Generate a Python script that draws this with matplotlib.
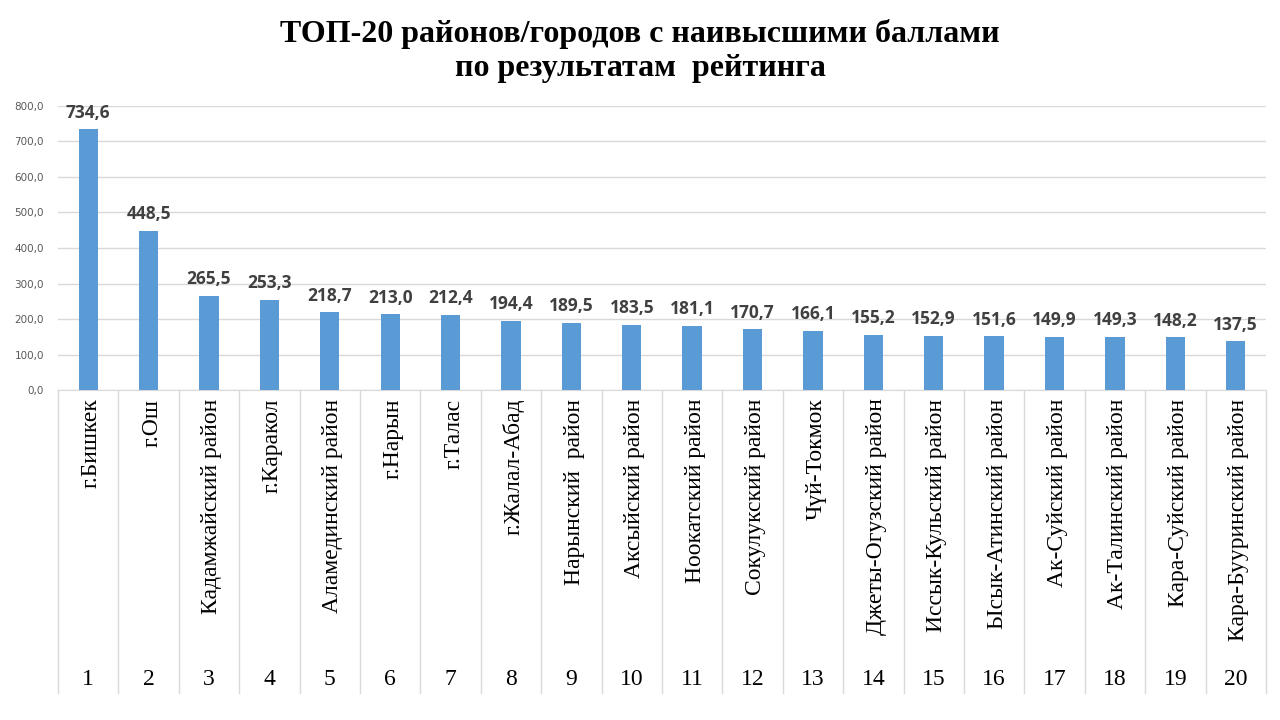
import matplotlib.pyplot as plt
from matplotlib.ticker import FuncFormatter

# data
ranks = list(range(1, 21))
districts = [
    "г.Бишкек", "г.Ош", "Кадамжайский район", "г.Каракол", "Аламединский район",
    "г.Нарын", "г.Талас", "г.Жалал-Абад", "Нарынский  район", "Аксыйский район",
    "Ноокатский район", "Сокулукский район", "Чүй-Токмок", "Джеты-Огузский район",
    "Иссык-Кульский район", "Ысык-Атинский район", "Ак-Суйский район",
    "Ак-Талинский район", "Кара-Суйский район", "Кара-Бууринский район",
]
scores = [734.6, 448.5, 265.5, 253.3, 218.7, 213.0, 212.4, 194.4, 189.5, 183.5,
          181.1, 170.7, 166.1, 155.2, 152.9, 151.6, 149.9, 149.3, 148.2, 137.5]
yticks = [0, 100, 200, 300, 400, 500, 600, 700, 800]

BAR_COLOR = "#5B9BD5"
GRID_COLOR = "#D9D9D9"
SERIF = "Liberation Serif"

fig = plt.figure(figsize=(12.8, 7.2), dpi=100)
ax = fig.add_axes([0.0453, 0.4583, 0.9437, 0.3945])

x = list(range(len(scores)))
ax.bar(x, scores, width=0.32, color=BAR_COLOR, zorder=3)

ax.set_xlim(-0.5, len(scores) - 0.5)
ax.set_ylim(0, 800)
ax.set_yticks(yticks)
ax.yaxis.set_major_formatter(FuncFormatter(lambda v, p: f"{v:.1f}".replace(".", ",")))
ax.tick_params(axis="y", length=0, labelsize=7.5, labelcolor="#595959", pad=10)
ax.tick_params(axis="x", length=0, labelbottom=False)
ax.grid(axis="y", color=GRID_COLOR, linewidth=1, zorder=0)
for s in ["top", "right", "left"]:
    ax.spines[s].set_visible(False)
ax.spines["bottom"].set_color(GRID_COLOR)

# value labels
for xi, v in zip(x, scores):
    ax.annotate(f"{v:.1f}".replace(".", ","), (xi, v), xytext=(0, 5.5),
                textcoords="offset points", ha="center", va="bottom",
                fontsize=12.5, fontweight="bold", color="#404040", family="Open Sans")

# multi-level category axis below the plot
trans = ax.get_xaxis_transform()
for b in range(len(scores) + 1):
    ax.plot([b - 0.5, b - 0.5], [0, -1.065], transform=trans, color=GRID_COLOR,
            linewidth=1, clip_on=False)
for xi, name, r in zip(x, districts, ranks):
    ax.text(xi + 0.05, -0.03, name, transform=trans, rotation=90, ha="center", va="top",
            fontsize=17, family=SERIF, color="black")
    ax.text(xi, -1.02, str(r), transform=trans, ha="center", va="center",
            fontsize=17, family=SERIF, color="black")

fig.text(0.5, 0.953, "ТОП-20 районов/городов с наивысшими баллами",
         ha="center", va="center", fontsize=23, fontweight="bold", family=SERIF)
fig.text(0.5, 0.905, "по результатам  рейтинга",
         ha="center", va="center", fontsize=23, fontweight="bold", family=SERIF)

fig.savefig("out.png", dpi=100)
